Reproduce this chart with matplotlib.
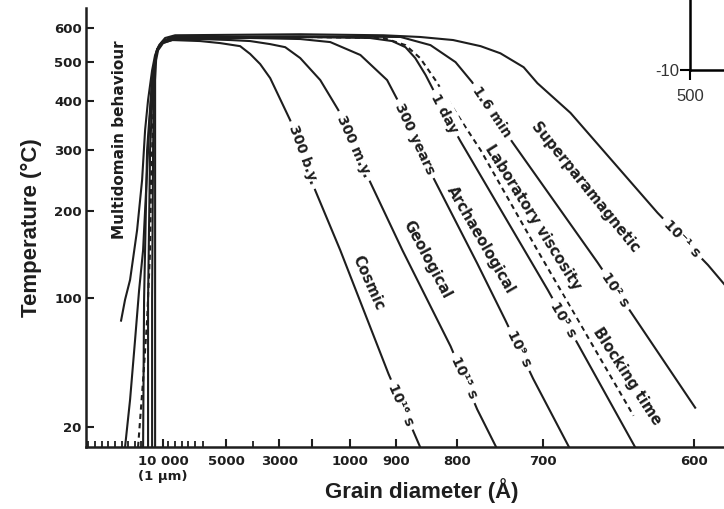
import numpy as np
import matplotlib.pyplot as plt

plt.rcParams['font.family'] = ['DejaVu Sans']
plt.rcParams['font.weight'] = 'bold'
plt.rcParams['axes.unicode_minus'] = False

# Blocking curves: grain diameter (Å) vs temperature (°C)
c1_d = [12020, 12020, 12020, 12020, 11770, 11270, 10000, 9286, 7063, 5476, 4472, 4094, 3717, 3340, 2667, 1921, 1263, 917, 861]
c1_t = [10, 99, 300, 454, 506, 535, 556, 565, 562, 556, 547, 524, 495, 459, 361, 234, 155, 53, 10]

c2_d = [12780, 12780, 12530, 12280, 12020, 11520, 10250, 9286, 7063, 4849, 4094, 3340, 2818, 2364, 1789, 1316, 957, 890, 811, 777, 755]
c2_t = [10, 99, 300, 454, 506, 535, 556, 565, 568, 565, 562, 553, 544, 512, 454, 382, 248, 155, 70, 31, 10]

c3_d = [13800, 13800, 13290, 12530, 12020, 11520, 10250, 9286, 4094, 2364, 1526, 978, 920, 898, 839, 777, 744, 712, 683]
c3_t = [10, 99, 300, 454, 506, 538, 559, 568, 571, 568, 559, 521, 454, 403, 254, 140, 86, 50, 10]

c4_d = [15060, 14810, 14050, 12780, 12020, 11520, 10250, 9286, 2364, 957, 909, 885, 869, 852, 818, 797, 697, 675, 639]
c4_t = [10, 99, 300, 454, 506, 538, 559, 571, 574, 571, 562, 544, 512, 467, 371, 320, 109, 68, 10]

# dashed "blocking time" curve
bt_d = [16330, 15060, 14050, 13290, 13040, 12530, 12020, 11520, 10250, 9286, 2364, 928, 885, 861, 836, 803, 773, 707, 640]
bt_t = [10, 49, 86, 155, 251, 361, 492, 535, 556, 571, 574, 571, 550, 512, 454, 378, 300, 155, 27]

c5_d = [19620, 18350, 17090, 16070, 15060, 14300, 13540, 12780, 12020, 11270, 10000, 9286, 2364, 893, 844, 803, 783, 736, 664, 599]
c5_t = [10, 37, 74, 109, 155, 234, 341, 454, 506, 541, 562, 574, 576, 574, 550, 500, 449, 316, 141, 32]

c6_d = [20630, 19620, 18350, 16580, 15310, 14550, 13800, 12780, 12020, 11010, 9840, 9048, 2364, 928, 861, 807, 773, 750, 723, 707, 682, 624, 591, 574]
c6_t = [86, 99, 121, 178, 251, 341, 403, 479, 521, 550, 571, 579, 582, 579, 574, 565, 547, 526, 487, 446, 376, 198, 138, 101]

x_ticks = [10000, 5000, 3000, 2000, 1000, 900, 800, 700, 600]
x_labels = ['10 000\n(1 µm)', '5000', '3000', '', '1000', '900', '800', '700', '600']
x_minor = [29000, 27200, 25400, 23900, 22200, 20400, 18900, 17100, 15600,
           9600, 9050, 8500, 8000, 7450, 6800, 4000]
y_ticks = [20, 100, 200, 300, 400, 500, 600]

# the drawn axes are not regular, so build scales from the tick marks
scale_d = np.array([30000, 10000, 5000, 3000, 2000, 1000, 900, 800, 700, 600, 550])
scale_px = np.array([84, 163, 226, 279, 312, 350, 396, 457, 543, 693, 773])
scale_t = np.array([0, 10, 20, 100, 200, 300, 400, 500, 600, 700])
scale_py = np.array([470, 447, 427, 298, 211, 150, 101, 62, 28, -3])


def fwd_x(d):
    return -np.interp(-np.asarray(d, float), -scale_d, scale_px)


def inv_x(q):
    return -np.interp(-np.asarray(q, float), scale_px, -scale_d)


def fwd_y(t):
    return -np.interp(np.asarray(t, float), scale_t, scale_py)


def inv_y(q):
    return np.interp(np.asarray(q, float), -scale_py, scale_t)


fig = plt.figure(figsize=(7.24, 5.09), dpi=100)
ax = fig.add_axes([86 / 724, 62 / 509, 638 / 724, 439 / 509])
ax.set_xscale('function', functions=(fwd_x, inv_x))
ax.set_yscale('function', functions=(fwd_y, inv_y))

ink = '#1e1e1e'
for d, t in [(c1_d, c1_t), (c2_d, c2_t), (c3_d, c3_t), (c4_d, c4_t), (c5_d, c5_t), (c6_d, c6_t)]:
    ax.plot(d, t, color=ink, lw=1.5)
ax.plot(bt_d, bt_t, color=ink, lw=1.5, ls=(0, (2.5, 2)))

ax.set_xlim(29500, 581)
ax.set_ylim(10, 665)

for s in ['top', 'right']:
    ax.spines[s].set_visible(False)
for s in ['left', 'bottom']:
    ax.spines[s].set_linewidth(1.8)
    ax.spines[s].set_color(ink)

ax.set_xticks(x_ticks)
ax.set_xticklabels(x_labels)
ax.set_xticks(x_minor, minor=True)
ax.set_yticks(y_ticks)
ax.set_yticklabels([str(v) for v in y_ticks])
ax.tick_params(which='both', direction='in', colors=ink, labelsize=9.5)
ax.tick_params(which='major', length=6, width=1.5)
ax.tick_params(which='minor', length=4, width=1.3)
ax.tick_params(axis='x', pad=6)
ax.tick_params(axis='y', pad=3)

ax.set_xlabel('Grain diameter (Å)', family='Liberation Sans', fontsize=16,
              fontweight='bold', va='center', color=ink)
ax.xaxis.set_label_coords(0.526, -0.098)
ax.set_ylabel('Temperature (°C)', family='Liberation Sans', fontsize=16,
              fontweight='bold', va='center', color=ink)
ax.yaxis.set_label_coords(-0.085, 0.5)

# labels along the curves (positions in figure pixels)
labels = [
    ('300 b.y.', 303, 155, -70, True, 10),
    ('Cosmic', 368, 283, -66, False, 10.5),
    ('10¹⁶ s', 401, 405, -66, True, 10),
    ('300 m.y.', 354, 146, -66, True, 10),
    ('Geological', 427, 260, -62, False, 10.5),
    ('10¹⁵ s', 464, 378, -65, True, 10),
    ('300 years', 415, 139, -65, True, 10),
    ('Archaeological', 481, 240, -60, False, 10.5),
    ('10⁹ s', 519, 349, -64, True, 10),
    ('1 day', 444, 114, -62, True, 10),
    ('Laboratory viscosity', 533, 217, -58, False, 10.5),
    ('10⁵ s', 563, 320, -60, True, 10),
    ('Blocking time', 627, 376, -57, False, 10.5),
    ('1.6 min', 492, 112, -56, True, 10),
    ('Superparamagnetic', 585, 188, -51, False, 10.5),
    ('10² s', 615, 290, -56, True, 10),
    ('10⁻¹ s', 682, 239, -46, True, 10),
    ('Multidomain behaviour', 120, 140, 90, False, 11),
]
for txt, px, py, rot, gap, size in labels:
    box = dict(boxstyle='square,pad=0.35', fc='white', ec='none') if gap else None
    fig.text(px / 724, 1 - py / 509, txt, rotation=rot, rotation_mode='anchor',
             ha='center', va='center', fontsize=size, color=ink, bbox=box)

# stray axis corner from another figure visible in the scan
iax = fig.add_axes([690 / 724, 439 / 509, 60 / 724, 70 / 509])
iax.set_facecolor('none')
iax.set_xlim(500, 600)
iax.set_ylim(-10, 0)
for s in ['top', 'right']:
    iax.spines[s].set_visible(False)
for s in ['left', 'bottom']:
    iax.spines[s].set_linewidth(1.8)
iax.set_xticks([500])
iax.set_xticklabels(['500'], fontweight='normal', family='Liberation Sans', fontsize=12, color='#333333')
iax.set_yticks([-10])
iax.set_yticklabels(['-10'], fontweight='normal', family='Liberation Sans', fontsize=12, color='#333333')
iax.tick_params(direction='out', length=7, width=1.5)
iax.tick_params(axis='x', pad=7)
iax.tick_params(axis='y', pad=1)

fig.savefig('out.png', dpi=100)
